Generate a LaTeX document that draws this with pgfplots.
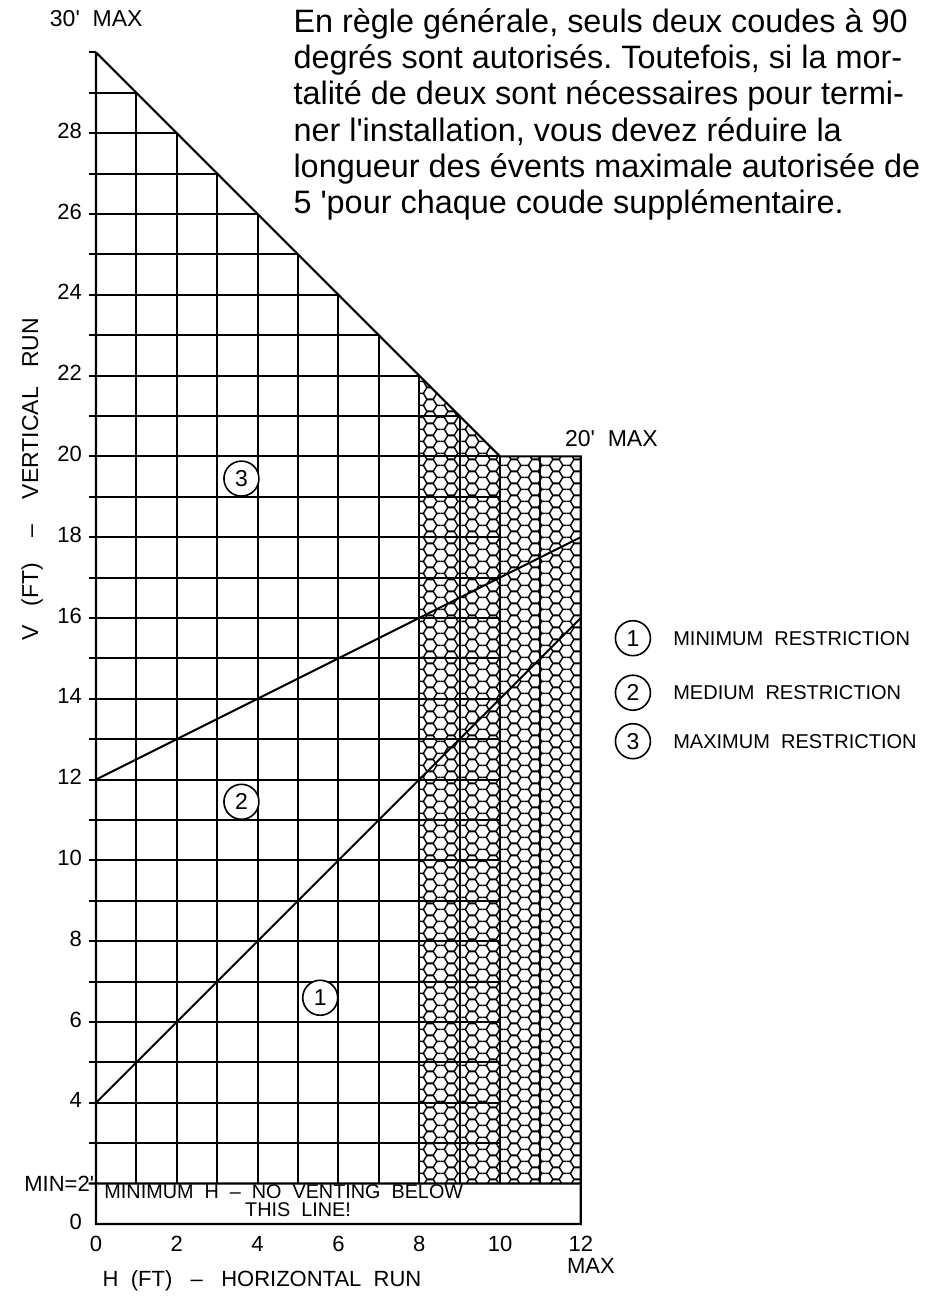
\documentclass[border=0pt]{standalone}
\usepackage{pgfplots}
\pgfplotsset{compat=1.18}
\usepackage{fontspec}
\setmainfont{Liberation Sans}
\usetikzlibrary{patterns}

% honeycomb (flat-top hexagons), side s=3.5pt, h=3.031pt
\pgfdeclarepatternformonly{honeycomb}{\pgfpointorigin}{\pgfpoint{10.5pt}{6.062pt}}{\pgfpoint{10.5pt}{6.062pt}}{%
  \pgfsetlinewidth{0.75pt}%
  \pgfpathmoveto{\pgfpoint{1.75pt}{3.031pt}}%
  \pgfpathlineto{\pgfpoint{3.5pt}{6.062pt}}%
  \pgfpathlineto{\pgfpoint{7pt}{6.062pt}}%
  \pgfpathlineto{\pgfpoint{8.75pt}{3.031pt}}%
  \pgfpathlineto{\pgfpoint{7pt}{0pt}}%
  \pgfpathlineto{\pgfpoint{3.5pt}{0pt}}%
  \pgfpathclose
  \pgfpathmoveto{\pgfpoint{-0.2pt}{3.031pt}}\pgfpathlineto{\pgfpoint{1.75pt}{3.031pt}}%
  \pgfpathmoveto{\pgfpoint{8.75pt}{3.031pt}}\pgfpathlineto{\pgfpoint{10.7pt}{3.031pt}}%
  \pgfusepath{stroke}%
}

% vertical grid lines (segments separated by nan rows)
\pgfplotstableread{
x y
1 2
1 29
nan nan
2 2
2 28
nan nan
3 2
3 27
nan nan
4 2
4 26
nan nan
5 2
5 25
nan nan
6 2
6 24
nan nan
7 2
7 23
nan nan
8 2
8 22
nan nan
9 2
9 21
nan nan
10 2
10 20
nan nan
11 2
11 20
}\vgrid

% horizontal grid lines with the short stubs left of the axis
\pgfplotstableread{
x y
-0.18 3
10 3
nan nan
-0.18 4
10 4
nan nan
-0.18 5
10 5
nan nan
-0.18 6
10 6
nan nan
-0.18 7
10 7
nan nan
-0.18 8
10 8
nan nan
-0.18 9
10 9
nan nan
-0.18 10
10 10
nan nan
-0.18 11
10 11
nan nan
-0.18 12
10 12
nan nan
-0.18 13
10 13
nan nan
-0.18 14
10 14
nan nan
-0.18 15
10 15
nan nan
-0.18 16
10 16
nan nan
-0.18 17
10 17
nan nan
-0.18 18
10 18
nan nan
-0.18 19
10 19
nan nan
-0.18 20
10 20
nan nan
-0.18 21
9 21
nan nan
-0.18 22
8 22
nan nan
-0.18 23
7 23
nan nan
-0.18 24
6 24
nan nan
-0.18 25
5 25
nan nan
-0.18 26
4 26
nan nan
-0.18 27
3 27
nan nan
-0.18 28
2 28
nan nan
-0.18 29
1 29
nan nan
-0.18 30
0 30
}\hgrid

% outline: boundary, right side, bottom box, left axis; and the MIN line
\pgfplotstableread{
x y
0 30
10 20
12 20
12 1
0 1
0 30
nan nan
-0.18 2
12 2
}\outline

\pgfplotstableread{
x y
8 2
8 22
10 20
12 20
12 2
}\hexregion

\pgfplotstableread{
x y
0 4
12 16
}\lineone

\pgfplotstableread{
x y
0 12
12 18
}\linetwo

\newcommand{\q}{\textquotesingle}
\frenchspacing

\begin{document}
\begin{tikzpicture}
\path[use as bounding box] (-48pt,-38pt) rectangle (416pt,612pt);
\begin{axis}[
  at={(0pt,0pt)}, anchor=south west,
  x=20.2pt, y=20.2pt,
  xmin=0, xmax=12, ymin=1, ymax=30,
  enlargelimits=false,
  clip=false,
  axis line style={draw=none},
  major tick length=0pt, minor tick length=0pt,
  xtick={0,2,4,6,8,10,12},
  xticklabels={0,2,4,6,8,10,12},
  ytick={1,4,6,8,10,12,14,16,18,20,22,24,26,28},
  yticklabels={0,4,6,8,10,12,14,16,18,20,22,24,26,28},
  typeset ticklabels with strut,
  ticklabel style={font=\fontsize{11}{13}\selectfont},
  yticklabel style={xshift=-3.5pt},
  xticklabel style={yshift=-1pt},
  unbounded coords=jump,
]
% hex hatching
\addplot[draw=none, pattern=honeycomb, pattern color=black] table {\hexregion} -- cycle;
% grid
\addplot[black, line width=1pt] table {\vgrid};
\addplot[black, line width=1pt] table {\hgrid};
\addplot[black, line width=1.1pt] table {\outline};
% restriction lines
\addplot[black, line width=1pt] table {\lineone};
\addplot[black, line width=1pt] table {\linetwo};

% circled labels in chart
\tikzset{circ/.style={circle, draw=black, line width=0.8pt, fill=white, minimum size=17.5pt, inner sep=0pt, font=\fontsize{11.5}{13}\selectfont}}
\node[circ] at (axis cs:3.6,19.45) {3};
\node[circ] at (axis cs:3.6,11.45) {2};
\node[circ] at (axis cs:5.55,6.6) {1};

% legend
\node[circ] at (axis cs:13.29,15.5) {1};
\node[circ] at (axis cs:13.29,14.15) {2};
\node[circ] at (axis cs:13.29,12.95) {3};
\begin{scope}[every node/.style={anchor=west, inner sep=0pt, font=\fontsize{10}{12}\selectfont}]
\node at (axis cs:14.28,15.5) {MINIMUM\ \ RESTRICTION};
\node at (axis cs:14.28,14.15) {MEDIUM\ \ RESTRICTION};
\node at (axis cs:14.28,12.95) {MAXIMUM\ \ RESTRICTION};
\end{scope}

% annotations
\node[anchor=base west, inner sep=0pt, font=\fontsize{11.5}{13}\selectfont] at (axis cs:-1.15,30.63) {30\q\ \ MAX};
\node[anchor=base west, inner sep=0pt, font=\fontsize{11.5}{13}\selectfont] at (axis cs:11.6,20.25) {20\q\ \ MAX};
\node[anchor=east, inner sep=0pt, font=\fontsize{11}{13}\selectfont] at (axis cs:-0.04,2) {MIN=2\q};
\node[anchor=base west, inner sep=0pt, font=\fontsize{9.9}{11}\selectfont] at (axis cs:0.2,1.62) {MINIMUM\ \ H\ \ --\ \ NO\ \ VENTING\ \ BELOW};
\node[anchor=base, inner sep=0pt, font=\fontsize{9.9}{11}\selectfont] at (axis cs:5.0,1.18) {THIS\ \ LINE!};
\node[anchor=north, inner sep=0pt, font=\fontsize{11}{13}\selectfont] at (axis cs:12.25,0.15) {MAX};
\node[anchor=center, inner sep=0pt, font=\fontsize{11}{13}\selectfont] at (axis cs:4.11,-0.4) {H\ \ (FT)\ \ \ --\ \ \ HORIZONTAL\ \ RUN};
\node[anchor=center, rotate=90, inner sep=0pt, font=\fontsize{11.5}{13}\selectfont] at (axis cs:-1.58,19.43) {V\ \ \ (FT)\ \ \ \ --\ \ \ \ VERTICAL\ \ \ RUN};

% French note
\begin{scope}[every node/.style={anchor=base west, inner sep=0pt, font=\fontsize{16.2}{18}\selectfont}]
\node at (axis cs:4.88,30.5) {En règle générale, seuls deux coudes à 90};
\node at (axis cs:4.88,29.6) {degrés sont autorisés. Toutefois, si la mor-};
\node at (axis cs:4.88,28.7) {talité de deux sont nécessaires pour termi-};
\node at (axis cs:4.88,27.8) {ner l\q installation, vous devez réduire la};
\node at (axis cs:4.88,26.9) {longueur des évents maximale autorisée de};
\node at (axis cs:4.88,26.0) {5 \q pour chaque coude supplémentaire.};
\end{scope}
\end{axis}
\end{tikzpicture}
\end{document}
